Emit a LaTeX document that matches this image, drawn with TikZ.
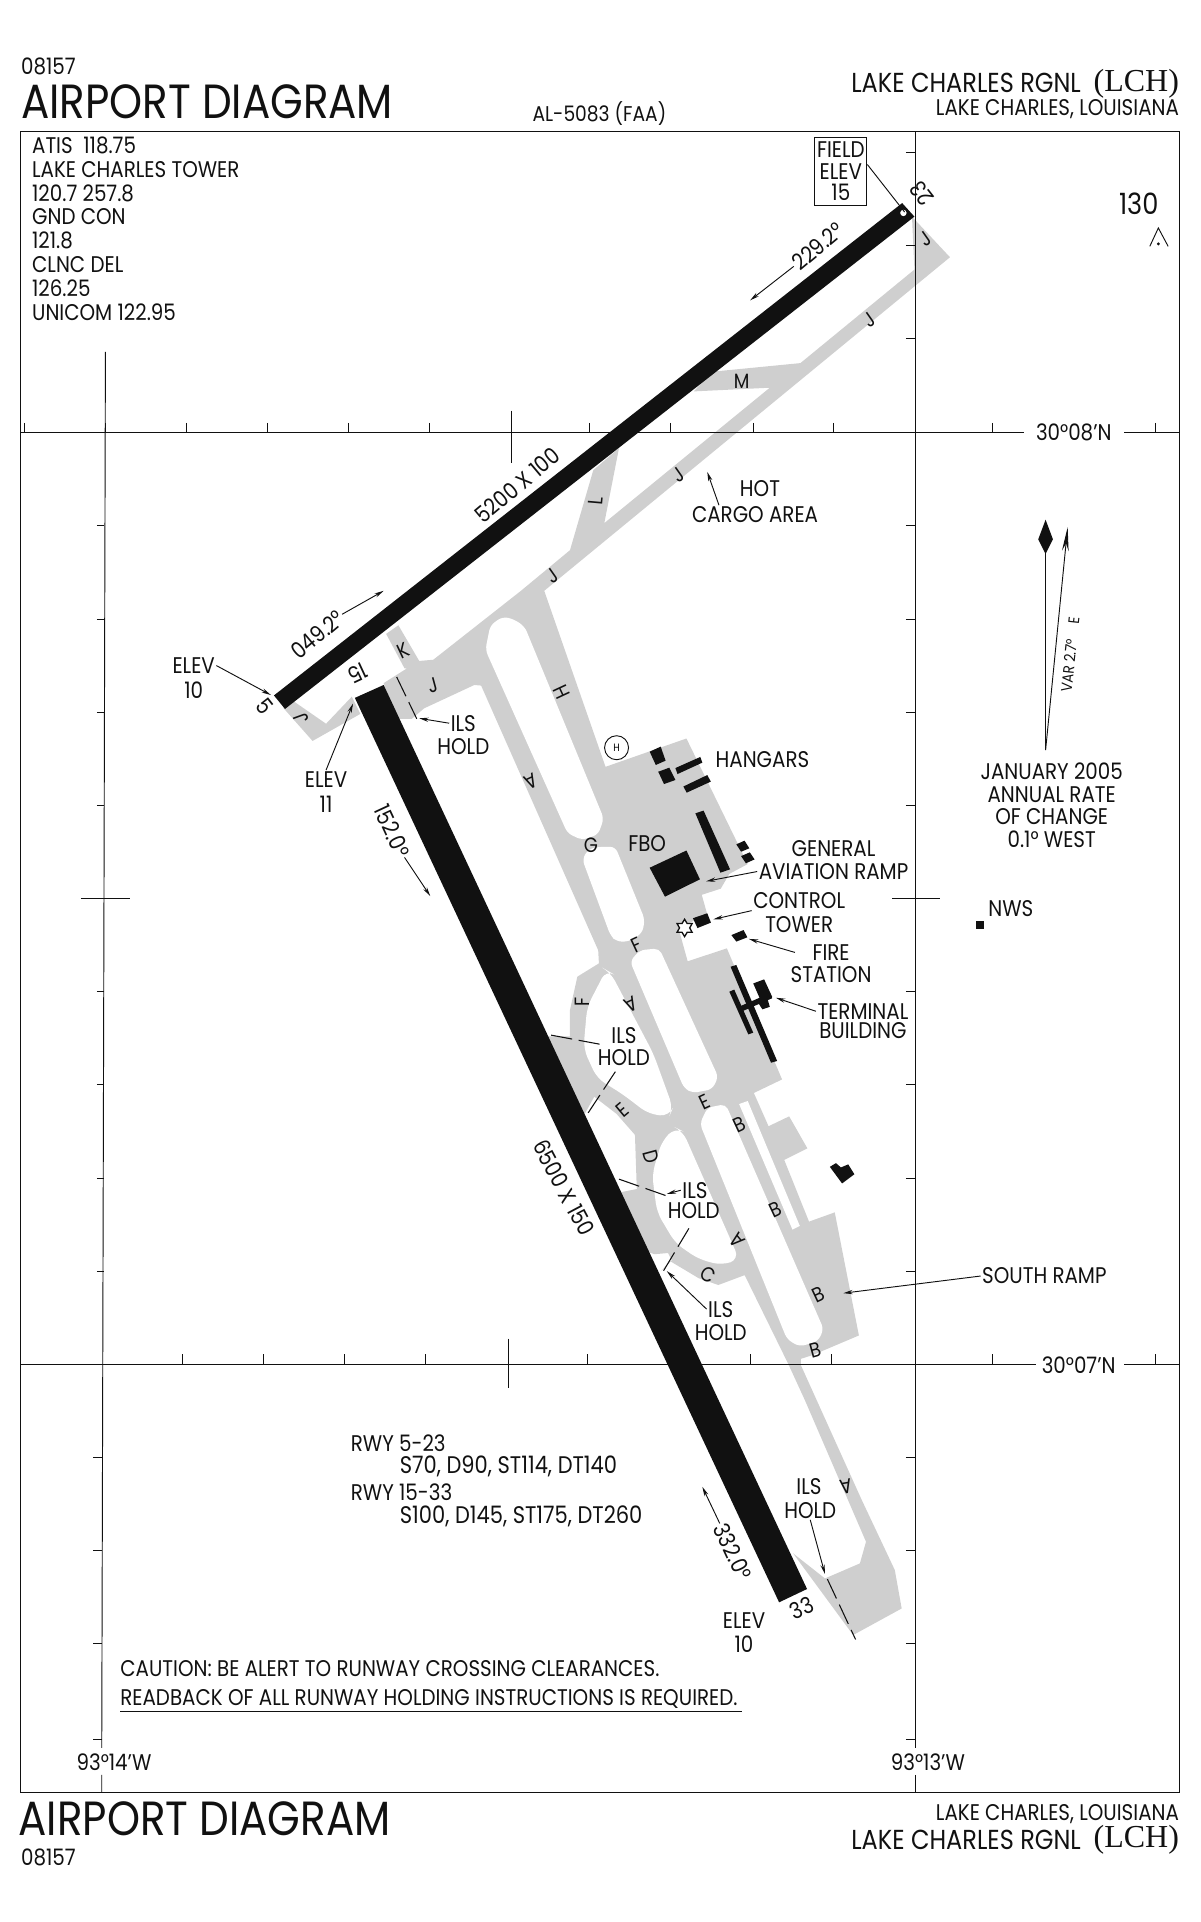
\documentclass[tikz,border=0pt]{standalone}
\usepackage{fontspec}
\setmainfont{Poppins}[FakeStretch=0.875]
\newfontfamily\codefont{Liberation Serif}
\usetikzlibrary{arrows.meta,shapes.geometric}
\definecolor{pave}{HTML}{CFCFCF}
\definecolor{ink}{HTML}{111111}
\begin{document}
\begin{tikzpicture}[x=0.9193pt,y=-0.9193pt,
  lbl/.style={inner sep=1pt,text=ink,font=\fontsize{17}{19}\selectfont},
  taxi/.style={lbl,font=\fontsize{15.5}{16}\selectfont},
  big/.style={inner sep=0pt,anchor=west,text=ink,font=\fontsize{36}{38}\selectfont},
  aptname/.style={inner sep=0pt,anchor=east,text=ink,font=\fontsize{20.6}{22}\selectfont},
  gridline/.style={draw=ink,line width=0.7pt},
  leader/.style={draw=ink,line width=0.7pt,-{Stealth[length=7pt,width=3.2pt]}},
  hold/.style={draw=ink,line width=0.8pt,dash pattern=on 16pt off 5pt},
  rwy/.style={fill=ink,draw=none},
  bldg/.style={fill=ink,draw=none},
  hole/.style={fill=white,draw=none,rounded corners=4pt}]
\useasboundingbox (0,0) rectangle (979,1568);
% pavement
\begin{scope}[y=-0.9231pt]
\fill[pave] (744,176)--(775,209)--(444,480)--(494,623)--(560,600)--(610,702)--(595,710)--(588,722)
  --(572.5,727)--(577,743)--(553.5,754)--(561,781)--(593,770.5)--(638,877)--(615,888)--(627,915)
  --(643.8,907)--(658.7,933)--(639.8,942.4)--(660,992.5)--(681,985)--(700.7,1085)--(662.8,1101)
  --(653.3,1104)--(653.3,1109)--(703,1218.6)--(730,1275.6)--(735.6,1306.8)--(696,1328.4)
  --(647,1262)--(673,1282.4)--(701.5,1270.2)--(706.5,1252.6)--(656.6,1137.5)--(643,1108)
  --(607.5,1036)--(586,1044)--(570,1038.5)--(546.5,1024.5)--(539,1033)--(548,1024)--(545,1018)
  --(534,1019)--(522,1015)--(498,968)--(504.5,969)--(519.5,966)--(518,922)--(503,905)
  --(484.8,891)--(477,905)--(465,893)--(445,842)--(465,842)--(465,820.6)--(471,793.5)
  --(488.6,782.7)--(488,772)--(392.5,557)--(387,556.5)--(346,575.5)--(336,584)--(322,584)
  --(313,555)--(332,543)--(330,543)--(315,515)--(325,508)--(342,537)--(353.5,536)--(425,480)
  --(465,447)--(484,382)--(505,364)--(493,425)--(628,315)--(566,318)--(581,302)--(653,295)
  --(746,219)--cycle;
\fill[pave] (231,575)--(237,568)--(266,588)--(287,566)--(294,580)--(255,602)--cycle;
% infields
\fill[hole] (400,508)--(410,501)--(419,503)--(428,509)--(492.6,665)--(488,678)--(475,682.5)
  --(463,677)--(396,528)--cycle;
\fill[hole] (475,698)--(480,690)--(488,688)--(502,688)--(526,747)--(524,758)--(513,765)--(503,765)
  --(498,760)--cycle;
\fill[hole,rounded corners=7pt] (494.5,788)--(479,818)--(476,852)--(487,876)--(508,889)--(529,905)
  --(546,907)--(549,900)--(533,856)--(498,790)--cycle;
\fill[hole] (514,781)--(522,772)--(537.8,770.5)--(586,875)--(581,885)--(565,888)--(558,884)--cycle;
\fill[hole,rounded corners=7pt] (551,916)--(540,927)--(532,954)--(536,985)--(551,1010)--(570,1023)
  --(589,1028)--(603,1023)--(557,919)--cycle;
\fill[hole] (571,913)--(577,900)--(592,897)--(672,1080)--(667,1090)--(652,1094)--(642,1088)--cycle;
\fill[hole,rounded corners=0pt] (603,897)--(610,894.5)--(652.5,996)--(646.5,999)--cycle;
\end{scope}
% grid
\draw[gridline] (17,107) rectangle (962,1462);
\draw[gridline] (17,353)--(835,353) (917,353)--(962,353);
\draw[gridline] (17,1113)--(845,1113) (917,1113)--(962,1113);
\draw[gridline] (86,287)--(83,1426) (83,1448)--(83,1462);
\draw[gridline] (747,107)--(747,1426) (747,1448)--(747,1462);
\draw[gridline] (66,733)--(106,733) (728,733)--(767,733);
\draw[gridline] (417,335)--(417,378) (415,1092)--(415,1132);
\foreach \x in {20,86,152,218,284,350,481,547,615,680,810,943}
  \draw[gridline] (\x,345)--(\x,353);
\foreach \x in {149,215,281,347,479,546,612,678,810,943}
  \draw[gridline] (\x,1105)--(\x,1113);
\foreach \y in {124,200,276,429,505,581,657,809,885,961,1037,1189,1265,1341,1419}
  \draw[gridline] (739,\y)--(747,\y);
\foreach \y in {429,505,581,657,809,885,961,1037}
  \draw[gridline] (79,\y)--(85,\y);
\foreach \y in {1189,1265,1341,1419}
  \draw[gridline] (76,\y)--(83,\y);
\begin{scope}[y=-0.9231pt]
% runways
\fill[rwy] (223.5,565)--(232.5,576)--(746,176)--(736,165)--cycle;
\fill[rwy] (289.5,567)--(313,556.5)--(658.4,1291)--(635.6,1301.8)--cycle;
\fill[white] (737,173) circle (2.6);
% buildings
\fill[bldg] (530,610.7)--(539,606.6)--(543,618)--(535,621.5)--cycle;
\fill[bldg] (537,627)--(546,623.7)--(551,633.7)--(541.7,637)--cycle;
\fill[bldg] (551,624)--(571.3,615)--(573,619.6)--(552.7,628.9)--cycle;
\fill[bldg] (557.5,639)--(577,629.7)--(579.9,635)--(560.2,644)--cycle;
\fill[bldg] (567.3,660.8)--(574,658.6)--(595.6,706.3)--(587.7,709)--cycle;
\fill[bldg] (600.7,686)--(607.4,683)--(611.3,689.2)--(604.6,692)--cycle;
\fill[bldg] (604.6,695.5)--(611.7,692.5)--(615.6,698.2)--(608.5,701.4)--cycle;
\fill[bldg] (530,705)--(560,691)--(571,714.4)--(542.5,728.5)--cycle;
\fill[bldg] (565.3,746)--(577,742)--(580,749.6)--(569,754)--cycle;
\fill[bldg] (596.7,759.7)--(606.6,755.6)--(609.7,761.5)--(600.7,765)--cycle;
\fill[bldg] (596,785.4)--(600.7,784)--(634,862)--(629,863.4)--cycle;
\fill[bldg] (595,805.7)--(599,804)--(614.5,839)--(610.5,840.4)--cycle;
\fill[bldg] (602.7,818)--(628,807)--(630,811)--(604.6,822)--cycle;
\fill[bldg] (614.5,799)--(623.4,795.7)--(630,810)--(621,813.8)--cycle;
\fill[bldg] (618,814)--(626,811)--(628,818)--(622,820)--cycle;
\fill[bldg] (677,948)--(682,945)--(686,948.5)--(692,946)--(697,954)--(687,961.5)--cycle;
% hold lines
\draw[hold] (323.6,550)--(340,584);
\draw[hold] (449.6,841)--(492.7,849);
\draw[hold] (502,870.7)--(478.6,906);
\draw[hold] (505,958)--(545,972);
\draw[hold] (562,998)--(541,1033);
\draw[hold] (675,1283)--(698,1332);
% taxiways
\node[taxi,rotate=35] (tj1) at (755,194) {J};
\node[taxi,rotate=35] (tj2) at (709,260) {J};
\node[taxi,rotate=35] (tj3) at (553,386) {J};
\node[taxi,rotate=35] (tj4) at (451,468) {J};
\node[taxi,rotate=15] (tj5) at (353,557) {J};
\node[taxi,rotate=110] (tj6) at (246,584) {J};
\node[taxi] (tm) at (605,310) {M};
\node[taxi,rotate=85] (tl) at (486,407) {L};
\node[taxi,rotate=25] (tk) at (329,529) {K};
\node[taxi,rotate=-65] (th) at (458,562) {H};
\node[taxi,rotate=205] (ta1) at (433,635) {A};
\node[taxi] (tg) at (482,687) {G};
\node[taxi,rotate=25] (tf1) at (519,768) {F};
\node[taxi,rotate=90] (tf2) at (475,814) {F};
\node[taxi,rotate=205] (ta2) at (515,816) {A};
\node[taxi,rotate=40] (te1) at (508,902) {E};
\node[taxi,rotate=25] (te2) at (575,895) {E};
\node[taxi,rotate=25] (tb1) at (603,914) {B};
\node[taxi,rotate=-75] (td) at (531,940) {D};
\node[taxi,rotate=25] (tb2) at (633,983) {B};
\node[taxi,rotate=130] (ta3) at (601,1008) {A};
\node[taxi,rotate=-30] (tc) at (578,1036) {C};
\node[taxi,rotate=25] (tb3) at (668,1052) {B};
\node[taxi,rotate=15] (tb4) at (665,1097) {B};
\node[taxi,rotate=190] (ta4) at (690,1208) {A};
\end{scope}
\fill[bldg] (796,751) rectangle (803,758);
\node[star,star points=6,star point ratio=1.7,draw=ink,fill=white,line width=1pt,minimum size=13pt,inner sep=0pt] (twr) at (558.5,757) {};
\node[circle,draw=ink,line width=0.7pt,minimum size=18pt,inner sep=0pt,font=\fontsize{8}{9}\selectfont] (helo) at (503,610) {H};
% header
\node[lbl,anchor=west,inner sep=0pt] (chart) at (17,54) {08157};
\node[big] (title) at (17,83) {AIRPORT DIAGRAM};
\node[lbl,font=\fontsize{16}{18}\selectfont] (alnum) at (489,93) {AL-5083 (FAA)};
\node[aptname] (apt) at (882,68) {LAKE CHARLES RGNL};
\node[aptname,font=\codefont\fontsize{24}{24}\selectfont] (lch) at (962,68) {(LCH)};
\node[lbl,anchor=east,inner sep=0pt] (city) at (962,89) {LAKE CHARLES, LOUISIANA};
% footer
\node[big] (titleb) at (15,1484) {AIRPORT DIAGRAM};
\node[lbl,anchor=west,inner sep=0pt] (chartb) at (17,1515) {08157};
\node[lbl,anchor=east,inner sep=0pt] (cityb) at (962,1480) {LAKE CHARLES, LOUISIANA};
\node[aptname] (aptb) at (882,1501) {LAKE CHARLES RGNL};
\node[aptname,font=\codefont\fontsize{24}{24}\selectfont] (lchb) at (962,1501) {(LCH)};
% frequencies
\foreach \t/\y [count=\i] in {ATIS\ \ 118.75/119,LAKE CHARLES TOWER/138,120.7 257.8/158,GND CON/177,121.8/196,CLNC DEL/216,126.25/235,UNICOM 122.95/255}
  \node[lbl,anchor=west,inner sep=0pt] (freq\i) at (26,\y) {\t};
% field elevation
\node[draw=ink,line width=0.7pt,minimum width=39pt,minimum height=51pt,inner sep=0pt] (fieldbox) at (686,140) {};
\node[lbl] (fieldt) at (686,122) {FIELD};
\node[lbl] (fieldm) at (686,140) {ELEV};
\node[lbl] (fieldb) at (686,157) {15};
\coordinate (fieldend) at (738,173);
\draw[gridline] (fieldbox.15)--(fieldend);
\node[lbl,font=\fontsize{22}{24}\selectfont] (varnum) at (929,166) {130};
\draw[gridline] (938,201)--(945,186)--(953,201);
\fill[ink] (945,199) circle (1.3);
% runway labels
\node[lbl,rotate=128] (rw23) at (752,158) {23};
\node[lbl,rotate=-52] (rw5) at (216,576) {5};
\node[lbl,rotate=-155] (rw15) at (292,549) {15};
\node[lbl,rotate=25] (rw33) at (654,1312) {33};
\node[lbl,rotate=40] (hdg229) at (667,201) {229.2°};
\node[lbl,rotate=40] (hdg049) at (259,518) {049.2°};
\node[lbl,rotate=40] (dim5) at (422,396) {5200 X 100};
\node[lbl,rotate=-65] (hdg152) at (320,678) {152.0°};
\node[lbl,rotate=-62] (dim15) at (460,969) {6500 X 150};
\node[lbl,rotate=-65] (hdg332) at (598,1266) {332.0°};
\coordinate (a229) at (612,245);
\coordinate (a049) at (313,482);
\coordinate (a152) at (351,731);
\coordinate (a332) at (573,1213);
\draw[leader] (hdg229.west)--(a229);
\draw[leader] (hdg049.east)--(a049);
\draw[leader] (hdg152.east)--(a152);
\draw[leader] (hdg332.west)--(a332);
% elevations
\node[lbl] (elev5a) at (158,543) {ELEV};
\node[lbl] (elev5b) at (158,563) {10};
\coordinate (e5end) at (221,567);
\draw[leader] (elev5a.east)--(e5end);
\node[lbl] (elev15a) at (266,636) {ELEV};
\node[lbl] (elev15b) at (266,656) {11};
\coordinate (e15end) at (288,574);
\draw[leader] (elev15a.north)--(e15end);
\node[lbl] (elev33a) at (607,1322) {ELEV};
\node[lbl] (elev33b) at (607,1341) {10};
% ramp labels
\node[lbl] (fbo) at (528,688) {FBO};
\node[lbl] (hangars) at (622,620) {HANGARS};
\node[lbl] (gena) at (680,692) {GENERAL};
\node[lbl] (genb) at (680,711) {AVIATION RAMP};
\coordinate (genend) at (576,719);
\draw[leader] (genb.west)--(genend);
\node[lbl] (ctla) at (652,735) {CONTROL};
\node[lbl] (ctlb) at (652,754) {TOWER};
\coordinate (ctlend) at (582,750);
\draw[leader] (ctla.south west)--(ctlend);
\node[lbl] (firea) at (678,777) {FIRE};
\node[lbl] (fireb) at (678,795) {STATION};
\coordinate (fireend) at (611,766);
\draw[leader] ([xshift=-12pt]firea.west)--(fireend);
\node[lbl] (terma) at (704,825) {TERMINAL};
\node[lbl] (termb) at (704,841) {BUILDING};
\coordinate (termend) at (633,814);
\draw[leader] (terma.west)--(termend);
\node[lbl] (cargoa) at (620,399) {HOT};
\node[lbl] (cargob) at (616,420) {CARGO AREA};
\coordinate (cargoend) at (577,385);
\draw[leader] (cargob.165)--(cargoend);
\node[lbl] (south) at (852,1041) {SOUTH RAMP};
\coordinate (southend) at (688,1055);
\draw[leader] (south.west)--(southend);
\node[lbl,anchor=west] (nws) at (805,741) {NWS};
% hold labels
\node[lbl] (ils1) at (378,590) {ILS};
\node[lbl] (hld1) at (378,609) {HOLD};
\coordinate (ils1end) at (342,586);
\draw[leader] (ils1.west)--(ils1end);
\node[lbl] (ils2) at (509,845) {ILS};
\node[lbl] (hld2) at (509,863) {HOLD};
\node[lbl] (ils3) at (567,971) {ILS};
\node[lbl] (hld3) at (566,988) {HOLD};
\coordinate (ils3end) at (544,974);
\draw[leader] (ils3.west)--(ils3end);
\node[lbl] (ils4) at (588,1068) {ILS};
\node[lbl] (hld4) at (588,1087) {HOLD};
\coordinate (ils4end) at (544,1037);
\draw[leader] (ils4.west)--(ils4end);
\node[lbl] (ils5) at (660,1213) {ILS};
\node[lbl] (hld5) at (661,1232) {HOLD};
\coordinate (ils5end) at (673,1284);
\draw[leader] (hld5.south)--(ils5end);
% magnetic variation
\coordinate (magbase) at (853,612);
\coordinate (magtip) at (871,430);
\coordinate (truetip) at (853,450);
\draw[gridline] (magbase)--(truetip);
\fill[ink] (853,424)--(859,440)--(853,452)--(847,440)--cycle;
\draw[gridline,-{Stealth[length=18pt,width=5pt]}] (magbase)--(magtip);
\node[lbl,rotate=84,font=\fontsize{11.5}{12}\selectfont] (var) at (873,534) {VAR 2.7°\quad E};
\node[lbl] (jan) at (858,629) {JANUARY 2005};
\node[lbl] (rate) at (858,648) {ANNUAL RATE};
\node[lbl] (chg) at (858,666) {OF CHANGE};
\node[lbl] (west) at (858,685) {0.1° WEST};
% bearing strength
\node[lbl,anchor=west,inner sep=0pt] (rw1) at (286,1177) {RWY 5-23};
\node[lbl,anchor=west,inner sep=0pt,font=\fontsize{18}{19}\selectfont] (rw1d) at (326,1196) {S70, D90, ST114, DT140};
\node[lbl,anchor=west,inner sep=0pt] (rw2) at (286,1217) {RWY 15-33};
\node[lbl,anchor=west,inner sep=0pt,font=\fontsize{18}{19}\selectfont] (rw2d) at (326,1237) {S100, D145, ST175, DT260};
% caution
\node[lbl,anchor=west,inner sep=0pt] (cau) at (98,1361) {CAUTION: BE ALERT TO RUNWAY CROSSING CLEARANCES.};
\node[lbl,anchor=west,inner sep=0pt] (rdb) at (98,1386) {READBACK OF ALL RUNWAY HOLDING INSTRUCTIONS IS REQUIRED.};
\draw[gridline] (98,1396)--(605,1396);
% coordinates
\node[lbl] (lat8) at (876,353) {30°08’N};
\node[lbl] (lat7) at (880,1114) {30°07’N};
\node[lbl] (lon14) at (93,1438) {93°14’W};
\node[lbl] (lon13) at (757,1438) {93°13’W};
\end{tikzpicture}
\end{document}
